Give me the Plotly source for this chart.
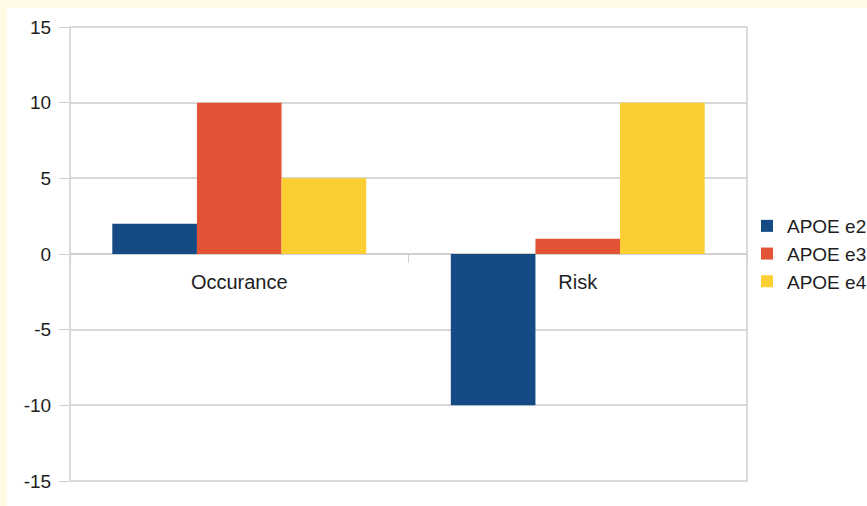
import plotly.graph_objects as go

categories = ["Occurance", "Risk"]
series_names = ["APOE e2", "APOE e3", "APOE e4"]
apoe_e2 = [2, -10]
apoe_e3 = [10, 1]
apoe_e4 = [5, 10]
y_ticks = [-15, -10, -5, 0, 5, 10, 15]
y_tick_labels = ["-15", "-10", "-5", "0", "5", "10", "15"]

colors = ["#154A84", "#E25435", "#FBCE31"]
values = [apoe_e2, apoe_e3, apoe_e4]

FONT = "Liberation Sans, Arial, sans-serif"

fig = go.Figure()
for name, vals, col in zip(series_names, values, colors):
    fig.add_trace(go.Bar(x=categories, y=vals, name=name,
                         marker=dict(color=col, line=dict(width=0))))

fig.update_layout(
    width=867, height=506,
    margin=dict(l=70, r=120, t=27, b=25, autoexpand=False),
    paper_bgcolor="#FFFAE6",
    plot_bgcolor="white",
    barmode="group",
    bargap=0.25,
    bargroupgap=0,
    font=dict(family=FONT, size=19, color="#1e1e1e"),
    showlegend=True,
    legend=dict(x=1.0, xanchor="left", y=0.5, yanchor="middle",
                font=dict(family=FONT, size=19, color="#1e1e1e"),
                bgcolor="rgba(0,0,0,0)", tracegroupgap=0,
                itemwidth=30),
    xaxis=dict(type="category", anchor="free", position=0.5,
               showgrid=False, showline=False,
               ticks="outside", tickson="boundaries", ticklen=8,
               tickcolor="#d0d0d0", tickwidth=1,
               tickfont=dict(family=FONT, size=20, color="#1e1e1e"),
               ticklabelstandoff=14),
    yaxis=dict(range=[-15, 15], tickvals=y_ticks, ticktext=y_tick_labels,
               showgrid=True,
               gridcolor="#d8d8d8", gridwidth=1.5,
               zeroline=True, zerolinecolor="#d0d0d0", zerolinewidth=1.5,
               ticks="outside", ticklen=10, tickcolor="#d0d0d0",
               showline=False,
               tickfont=dict(family=FONT, size=19, color="#1e1e1e"),
               ticklabelstandoff=4),
    shapes=[
        dict(type="rect", xref="paper", yref="paper",
             x0=(7 - 70) / 677, x1=2.0, y0=-1.0, y1=1 + (27 - 8) / 454,
             fillcolor="white", line=dict(width=0), layer="below"),
        dict(type="rect", xref="paper", yref="paper",
             x0=0, x1=1, y0=0, y1=1,
             line=dict(color="#cfcfcf", width=1.5), layer="above"),
    ],
)

fig.write_html("out.html")
